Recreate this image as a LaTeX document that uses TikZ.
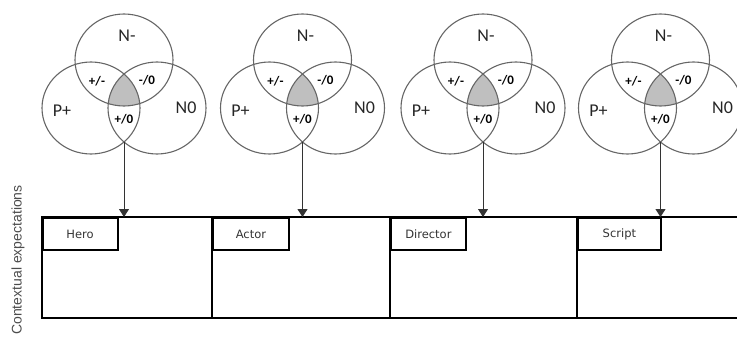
\documentclass[tikz,border=0pt]{standalone}
\usepackage{fontspec}
\setmainfont{Carlito}
\newfontfamily\tagfont{DejaVu Sans}
\newfontfamily\axisfont{Liberation Sans}
\usetikzlibrary{arrows.meta}
\tikzset{ring/.style={draw=black!60, line width=1.1pt},
  core/.style={fill=black!25},
  bigsign/.style={text=black!85, font=\fontsize{18}{18}\selectfont},
  smallsign/.style={text=black, font=\bfseries\fontsize{13}{13}\selectfont},
  frame/.style={draw=black, line width=1.8pt},
  tag/.style={frame, anchor=north west, minimum height=32pt, inner sep=0pt,
    text=black!80, font=\tagfont\fontsize{11.5}{11.5}\selectfont},
  down/.style={draw=black!80, line width=1pt, -{Triangle[width=10pt,length=8pt]}}}

% one Venn diagram, origin at the centre of the top circle (x), suffix #1
\newcommand{\venn}[1]{%
   \begin{scope}
    \clip (0,60) ellipse (49pt and 46pt);
    \clip (-33,108) ellipse (49pt and 46pt);
    \fill[core] (33,108) ellipse (49pt and 46pt);
   \end{scope}
   \draw[ring] (0,60) ellipse (49pt and 46pt);
   \draw[ring] (-33,108) ellipse (49pt and 46pt);
   \draw[ring] (33,108) ellipse (49pt and 46pt);
   \node[bigsign] (n#1) at ( 3,36) {N-};
   \node[bigsign] (p#1) at (-62,111) {P+};
   \node[bigsign] (z#1) at ( 62,108) {N0};
   \node[smallsign] (pn#1) at (-27,81) {+/-};
   \node[smallsign] (nz#1) at ( 23,80) {-/0};
   \node[smallsign] (pz#1) at ( 0,119) {+/0};
   \coordinate (b#1) at (0,142);
}

\begin{document}
\begin{tikzpicture}[x=1pt,y=-1pt]
  \useasboundingbox (0,0) rectangle (737,340);
  \clip (0,0) rectangle (737,340);
  \begin{scope}[xshift=124pt]   \venn{1} \end{scope}
  \begin{scope}[xshift=302.5pt] \venn{2} \end{scope}
  \begin{scope}[xshift=483pt]   \venn{3} \end{scope}
  \begin{scope}[xshift=660.5pt] \venn{4} \end{scope}
  % the frame with its four fields
  \draw[frame] (745,217) -- (41.7,217) -- (41.7,317.7) -- (745,317.7);
  \draw[frame] (212.3,217) -- (212.3,317.7);
  \draw[frame] (390,217) -- (390,317.7);
  \draw[frame] (577,217) -- (577,317.7);
  \node[tag, minimum width=75pt] (hero) at (41.7,217) {Hero};
  \node[tag, minimum width=75.4pt] (actor) at (212.3,217) {Actor};
  \node[tag, minimum width=75pt] (director) at (390,217) {Director};
  \node[tag, minimum width=83pt] (script) at (577,217) {Script};
  \coordinate (t1) at (124,217);
  \coordinate (t2) at (302.5,217);
  \coordinate (t3) at (483,217);
  \coordinate (t4) at (660.5,217);
  \draw[down] (b1) -- (t1);
  \draw[down] (b2) -- (t2);
  \draw[down] (b3) -- (t3);
  \draw[down] (b4) -- (t4);
  \node[rotate=90, text=black!70, font=\axisfont\fontsize{14}{14}\selectfont]
    (axis) at (18,260) {Contextual expectations};
\end{tikzpicture}
\end{document}
